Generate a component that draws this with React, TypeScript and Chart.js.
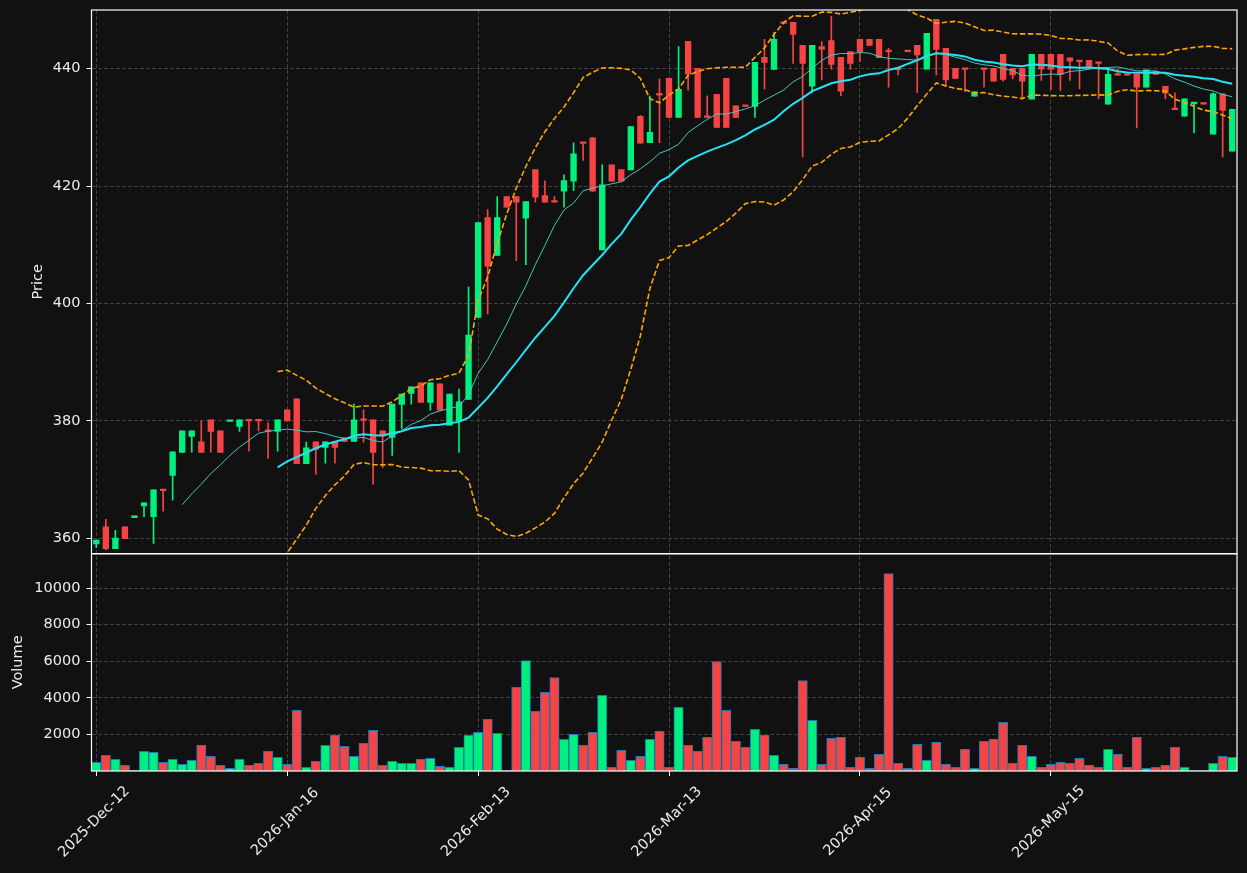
import React, { useEffect, useRef } from 'react';
import { Chart, registerables } from 'chart.js';

Chart.register(...registerables);

// ---- data ----
const tickIndex = [0, 20, 40, 60, 80, 100];
const tickLabels = ['2025-Dec-12', '2026-Jan-16', '2026-Feb-13', '2026-Mar-13', '2026-Apr-15', '2026-May-15'];

const opens = [
  359.03, 361.93, 358.24, 361.93, 363.52, 365.51, 363.69, 368.24, 370.69, 374.61,
  377.34, 376.43, 380.18, 378.31, 379.90, 379.04, 380.13, 380.13, 378.30, 378.19,
  381.89, 383.76, 372.73, 376.43, 375.46, 376.43, 377.11, 376.49, 380.18, 380.18,
  378.31, 377.17, 382.80, 384.67, 386.49, 383.14, 386.32, 379.27, 380.01, 383.65,
  397.64, 414.64, 408.21, 418.22, 418.22, 414.53, 422.83, 418.39, 417.37, 419.13,
  420.84, 427.38, 428.23, 409.12, 423.62, 422.83, 422.77, 431.87, 427.38, 435.62,
  438.35, 431.70, 444.66, 440.06, 431.98, 435.62, 438.35, 433.69, 433.69, 433.57,
  441.93, 439.88, 447.80, 447.90, 443.98, 437.04, 443.75, 444.77, 441.93, 442.90,
  445.00, 445.00, 445.00, 443.00, 439.94, 442.96, 443.98, 439.94, 448.41, 443.47,
  440.06, 440.00, 435.34, 440.00, 440.06, 442.44, 440.06, 440.06, 434.82, 442.44,
  442.44, 442.44, 441.87, 441.30, 441.41, 441.01, 433.96, 439.02, 439.02, 439.02,
  436.86, 439.54, 436.98, 433.11, 431.92, 434.02, 434.02, 428.85, 435.73, 425.95,
];
const highs = [
  359.71, 363.24, 361.36, 361.93, 363.81, 366.02, 368.24, 368.24, 374.72, 378.31,
  378.31, 379.95, 380.18, 378.31, 380.05, 380.18, 380.18, 380.18, 379.70, 380.18,
  381.89, 383.76, 376.37, 376.43, 376.43, 376.43, 377.11, 382.85, 381.89, 380.18,
  378.31, 382.85, 384.56, 385.81, 386.49, 386.49, 386.32, 384.56, 385.41, 402.80,
  413.79, 416.00, 418.22, 418.22, 418.22, 417.37, 422.83, 420.89, 418.22, 421.92,
  427.38, 427.38, 428.23, 423.62, 423.62, 422.83, 430.16, 432.04, 435.34, 438.29,
  438.35, 443.75, 444.66, 440.06, 435.39, 435.62, 438.35, 433.69, 433.69, 441.08,
  445.00, 446.14, 447.90, 447.90, 443.98, 443.98, 444.60, 448.93, 441.93, 442.90,
  445.00, 445.00, 445.00, 443.47, 440.00, 442.96, 443.98, 446.03, 448.41, 443.47,
  440.06, 440.00, 436.08, 440.00, 440.06, 442.44, 440.06, 440.06, 442.44, 442.44,
  442.44, 442.44, 441.87, 441.30, 441.41, 441.01, 439.99, 439.99, 439.02, 439.02,
  439.82, 439.54, 436.98, 435.90, 434.87, 434.08, 434.02, 435.90, 435.73, 433.06,
];
const lows = [
  358.40, 358.01, 358.24, 359.94, 363.52, 363.69, 359.14, 364.60, 366.48, 374.61,
  374.67, 374.61, 374.67, 374.61, 379.90, 378.19, 374.84, 378.30, 373.60, 374.84,
  380.01, 372.73, 372.73, 370.91, 372.79, 372.79, 376.49, 376.49, 376.37, 369.21,
  372.05, 374.10, 378.65, 382.85, 383.14, 381.83, 381.83, 379.27, 374.61, 383.65,
  397.64, 398.21, 408.21, 416.40, 407.31, 406.62, 417.26, 417.26, 417.26, 416.40,
  419.24, 424.36, 419.13, 409.12, 420.84, 420.84, 422.77, 427.32, 427.38, 427.38,
  431.70, 431.70, 436.36, 431.70, 431.70, 429.99, 429.99, 431.70, 433.57, 431.70,
  436.53, 439.88, 447.60, 440.91, 424.99, 435.96, 438.07, 439.94, 435.39, 439.94,
  441.19, 443.98, 441.88, 436.87, 438.92, 442.90, 435.91, 439.94, 438.92, 437.04,
  438.35, 436.08, 435.34, 436.87, 437.89, 437.89, 438.24, 434.94, 434.82, 438.01,
  436.41, 436.30, 438.00, 436.58, 440.39, 434.87, 433.96, 438.91, 438.91, 429.93,
  436.86, 439.02, 434.87, 433.00, 431.92, 429.08, 433.96, 428.85, 424.92, 425.95,
];
const closes = [
  359.71, 358.24, 360.05, 359.94, 363.81, 366.02, 368.24, 368.13, 374.72, 378.31,
  378.31, 374.61, 378.19, 374.61, 380.00, 380.18, 380.01, 380.01, 378.20, 380.18,
  380.01, 372.73, 375.41, 375.12, 376.43, 375.46, 376.49, 380.18, 380.07, 374.61,
  377.45, 382.85, 384.56, 385.81, 383.14, 386.49, 381.83, 384.56, 383.25, 394.60,
  413.79, 406.34, 414.64, 416.40, 417.26, 417.37, 418.11, 417.26, 417.26, 420.95,
  425.50, 427.26, 419.13, 420.21, 420.84, 420.84, 430.16, 427.32, 429.14, 435.51,
  431.70, 436.47, 439.09, 431.70, 431.70, 429.99, 429.99, 431.70, 433.57, 441.08,
  441.08, 445.00, 447.70, 445.86, 440.91, 443.98, 443.30, 440.74, 436.19, 440.91,
  442.90, 443.98, 441.88, 442.90, 439.82, 442.90, 442.33, 446.03, 443.30, 438.07,
  438.35, 439.88, 436.08, 439.88, 437.89, 438.18, 438.92, 437.89, 442.44, 439.94,
  439.93, 439.02, 441.30, 441.19, 440.39, 440.90, 439.02, 438.91, 438.91, 436.86,
  439.82, 439.02, 435.84, 433.00, 434.87, 434.08, 433.96, 435.73, 432.88, 433.06,
];
const volumes = [
  470, 855, 637, 309, 20, 1074, 1019, 473, 637, 364,
  582, 1420, 800, 309, 146, 637, 309, 419, 1074, 746,
  364, 3312, 200, 528, 1401, 1947, 1347, 800, 1510, 2220,
  309, 528, 419, 419, 637, 692, 255, 200, 1292, 1947,
  2111, 2821, 2057, 20, 4568, 6042, 3258, 4295, 5114, 1729,
  2002, 1401, 2111, 4131, 200, 1128, 582, 800, 1729, 2166,
  200, 3476, 1401, 1074, 1838, 5988, 3312, 1620, 1292, 2275,
  1947, 855, 364, 146, 4950, 2766, 364, 1784, 1838, 200,
  746, 146, 910, 10800, 419, 146, 1456, 582, 1565, 364,
  200, 1183, 146, 1620, 1729, 2657, 419, 1401, 800, 200,
  364, 473, 419, 692, 309, 200, 1183, 910, 200, 1838,
  146, 200, 309, 1292, 200, 20, 20, 419, 800, 746,
];
const priceTicks = [360, 380, 400, 420, 440];
const volumeTicks = [2000, 4000, 6000, 8000, 10000];

// ---- style ----
const BG = '#111111';
const UP = '#00f07f';
const DOWN = '#f44444';
const GRID = '#404040';
const TEXT = '#ececec';
const FONT = '"DejaVu Sans", sans-serif';
const FS = 14.5;

// moving averages / Bollinger bands derived from the closes
function rollingMean(vals: number[], n: number) {
  return vals.map((_, i) => {
    if (i < n - 1) return null;
    const w = vals.slice(i - n + 1, i + 1);
    return w.reduce((a, b) => a + b, 0) / n;
  });
}
function rollingStd(vals: number[], n: number) {
  return vals.map((_, i) => {
    if (i < n - 1) return null;
    const w = vals.slice(i - n + 1, i + 1);
    const m = w.reduce((a, b) => a + b, 0) / n;
    return Math.sqrt(w.reduce((a, b) => a + (b - m) * (b - m), 0) / (n - 1));
  });
}

export default function App() {
  const ref = useRef<HTMLCanvasElement | null>(null);

  useEffect(() => {
    document.body.style.margin = '0';
    document.body.style.background = BG;
    const canvas = ref.current;
    if (!canvas) return;

    const idx = closes.map((_, i) => i);
    const isUp = idx.map((i) => closes[i] >= opens[i]);
    const colors = isUp.map((u) => (u ? UP : DOWN));

    const ma10 = rollingMean(closes, 10);
    const ma20 = rollingMean(closes, 20);
    const sd20 = rollingStd(closes, 20);
    const toPts = (arr: (number | null)[]) =>
      arr.map((v, i) => ({ x: i, y: v })).filter((p) => p.y !== null);
    const upper = ma20.map((m, i) => (m === null ? null : m + 2 * (sd20[i] as number)));
    const lower = ma20.map((m, i) => (m === null ? null : m - 2 * (sd20[i] as number)));

    const framePlugin = {
      id: 'frames',
      afterDraw(chart: any) {
        const { ctx, chartArea } = chart;
        const yP = chart.scales.y;
        const yV = chart.scales.yv;
        const xs = chart.scales.x;
        ctx.save();
        ctx.strokeStyle = '#ffffff';
        ctx.lineWidth = 1.2;
        ctx.strokeRect(chartArea.left, yP.top, chartArea.right - chartArea.left, yP.bottom - yP.top);
        ctx.strokeRect(chartArea.left, yV.top, chartArea.right - chartArea.left, yV.bottom - yV.top);
        ctx.fillStyle = TEXT;
        ctx.font = `${FS}px ${FONT}`;
        ctx.textAlign = 'center';
        ctx.textBaseline = 'middle';
        tickIndex.forEach((v, k) => {
          const px = xs.getPixelForValue(v);
          ctx.save();
          ctx.translate(px - 2, 822);
          ctx.rotate(-Math.PI / 4);
          ctx.fillText(tickLabels[k], 0, 0);
          ctx.restore();
        });
        ctx.save();
        ctx.translate(38, (yP.top + yP.bottom) / 2);
        ctx.rotate(-Math.PI / 2);
        ctx.fillText('Price', 0, 0);
        ctx.restore();
        ctx.save();
        ctx.translate(18, (yV.top + yV.bottom) / 2);
        ctx.rotate(-Math.PI / 2);
        ctx.fillText('Volume', 0, 0);
        ctx.restore();
        ctx.restore();
      },
    };

    const gridOpts = {
      color: GRID,
      lineWidth: 1,
      tickColor: '#ffffff',
      tickLength: 5,
      tickWidth: 1,
      tickBorderDash: [],
      offset: false,
    };

    const fitY = (s: any) => {
      s.width = 91.5;
      s.paddingTop = 0;
      s.paddingBottom = 0;
    };

    const chart = new Chart(canvas, {
      type: 'bar',
      data: {
        datasets: [
          {
            type: 'line',
            label: 'MA10',
            data: toPts(ma10),
            borderColor: 'rgba(72,206,200,0.95)',
            borderWidth: 1,
            pointRadius: 0,
            xAxisID: 'x',
            yAxisID: 'y',
            order: 0,
          },
          {
            type: 'line',
            label: 'MA20',
            data: toPts(ma20),
            borderColor: '#22e4f6',
            borderWidth: 2,
            pointRadius: 0,
            xAxisID: 'x',
            yAxisID: 'y',
            order: 0,
          },
          {
            type: 'line',
            label: 'BB upper',
            data: toPts(upper),
            borderColor: '#ffa500',
            borderWidth: 1.6,
            borderDash: [5.5, 2.5],
            pointRadius: 0,
            xAxisID: 'x',
            yAxisID: 'y',
            order: 0,
          },
          {
            type: 'line',
            label: 'BB lower',
            data: toPts(lower),
            borderColor: '#ffa500',
            borderWidth: 1.6,
            borderDash: [5.5, 2.5],
            pointRadius: 0,
            xAxisID: 'x',
            yAxisID: 'y',
            order: 0,
          },
          {
            type: 'bar',
            label: 'wick',
            data: idx.map((i) => ({ x: i, y: [lows[i], highs[i]] })),
            backgroundColor: colors,
            barThickness: 1,
            grouped: false,
            minBarLength: 1,
            xAxisID: 'x',
            yAxisID: 'y',
            order: 2,
          },
          {
            type: 'bar',
            label: 'body',
            data: idx.map((i) => ({ x: i, y: [Math.min(opens[i], closes[i]), Math.max(opens[i], closes[i])] })),
            backgroundColor: colors,
            barThickness: 5.7,
            grouped: false,
            minBarLength: 1.6,
            xAxisID: 'x',
            yAxisID: 'y',
            order: 1,
          },
          {
            type: 'bar',
            label: 'volume',
            data: idx.map((i) => ({ x: i, y: volumes[i] })),
            backgroundColor: colors,
            borderColor: '#1f77b4',
            borderWidth: 1,
            barThickness: 9.4,
            grouped: false,
            xAxisID: 'x',
            yAxisID: 'yv',
            order: 1,
          },
        ],
      },
      options: {
        responsive: false,
        animation: false,
        devicePixelRatio: 1,
        events: [],
        layout: { padding: { left: 0, right: 10, top: 10, bottom: 0 } },
        plugins: { legend: { display: false }, tooltip: { enabled: false } },
        scales: {
          x: {
            type: 'linear',
            position: 'bottom',
            min: -0.5,
            max: 119.5,
            offset: false,
            afterBuildTicks: (s: any) => {
              s.ticks = tickIndex.map((v) => ({ value: v }));
            },
            afterFit: (s: any) => {
              s.height = 102;
              s.paddingLeft = 0;
              s.paddingRight = 0;
            },
            ticks: { display: false },
            grid: gridOpts,
            border: { display: false, dash: [4, 2] },
          },
          yv: {
            type: 'linear',
            position: 'left',
            stack: 'panels',
            stackWeight: 217,
            min: 0,
            max: 11880,
            afterBuildTicks: (s: any) => {
              s.ticks = volumeTicks.map((v) => ({ value: v }));
            },
            afterFit: fitY,
            ticks: {
              color: TEXT,
              font: { family: FONT, size: FS },
              padding: 6,
              callback: (v: any) => String(v),
            },
            grid: gridOpts,
            border: { display: false, dash: [4, 2] },
          },
          y: {
            type: 'linear',
            position: 'left',
            stack: 'panels',
            stackWeight: 543,
            min: 357.37,
            max: 450.0,
            afterBuildTicks: (s: any) => {
              s.ticks = priceTicks.map((v) => ({ value: v }));
            },
            afterFit: fitY,
            ticks: {
              color: TEXT,
              font: { family: FONT, size: FS },
              padding: 6,
              callback: (v: any) => String(v),
            },
            grid: gridOpts,
            border: { display: false, dash: [4, 2] },
          },
        },
      },
      plugins: [framePlugin],
    } as any);

    return () => {
      chart.destroy();
    };
  }, []);

  return (
    <div style={{ position: 'absolute', left: 0, top: 0, width: 1247, height: 873, background: BG }}>
      <canvas ref={ref} width={1247} height={873} style={{ display: 'block' }} />
    </div>
  );
}
